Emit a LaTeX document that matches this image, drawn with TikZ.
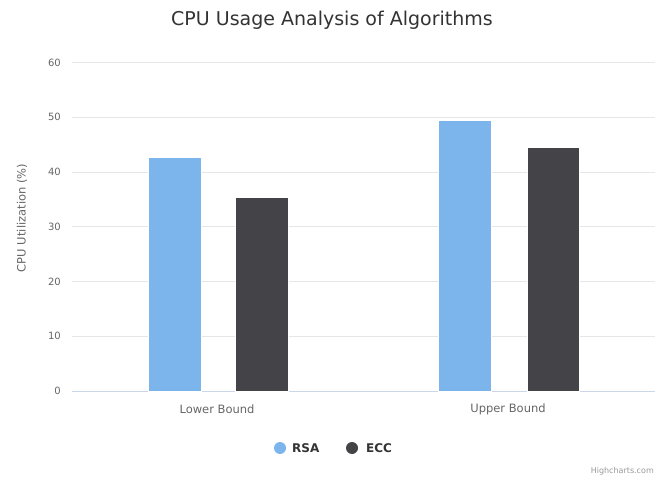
\documentclass[tikz,border=0pt]{standalone}
\usepackage{fontspec}
\setmainfont{DejaVu Sans}
\definecolor{rsa}{HTML}{7CB5EC}
\definecolor{ecc}{HTML}{434348}
\definecolor{gridgray}{HTML}{E6E6E6}
\definecolor{axisblue}{HTML}{CCD6EB}
\definecolor{labelgray}{HTML}{666666}
\definecolor{titlegray}{HTML}{333333}
\definecolor{creditgray}{HTML}{999999}

\begin{document}
\begin{tikzpicture}[x=1pt,y=-1pt,
  gridline/.style={draw=gridgray,line width=0.8pt},
  ticklabel/.style={anchor=east,inner sep=0pt,text=labelgray,font=\fontsize{10}{12}\selectfont},
  catlabel/.style={inner sep=0pt,text=labelgray,font=\fontsize{11.5}{13}\selectfont},
  legendlabel/.style={anchor=west,inner sep=0pt,text=titlegray,font=\bfseries\fontsize{12}{14}\selectfont},
  bar/.style={draw=white,line width=0.6pt}]
\useasboundingbox[fill=white] (0,0) rectangle (664,481);

\node[text=titlegray,font=\fontsize{19}{22}\selectfont] (title) at (332,20) {CPU Usage Analysis of Algorithms};

% grid and y axis
\foreach \v in {10,20,...,60}{
  \pgfmathsetmacro\yy{391-5.475*\v}
  \draw[gridline] (72,\yy) -- (655,\yy);
}
\foreach \v in {0,10,...,60}{
  \pgfmathsetmacro\yy{391-5.475*\v}
  \node[ticklabel] (tick\v) at (61,\yy) {\v};
}
\draw[draw=axisblue,line width=0.8pt] (72,391) -- (655,391);
\node[rotate=90,inner sep=0pt,text=labelgray,font=\fontsize{11.5}{13}\selectfont] (ytitle) at (22,218) {CPU Utilization (\%)};

% bars
\fill[rsa,bar] (148,391) rectangle (201,{391-5.475*42.7});
\fill[ecc,bar] (235,391) rectangle (288,{391-5.475*35.4});
\fill[rsa,bar] (438,391) rectangle (491,{391-5.475*49.5});
\fill[ecc,bar] (527,391) rectangle (579,{391-5.475*44.6});

\node[catlabel] (lower) at (217,409) {Lower Bound};
\node[catlabel] (upper) at (508,409) {Upper Bound};

% legend
\fill[rsa] (280,448) circle (6);
\node[legendlabel] (rsa) at (292,448) {RSA};
\fill[ecc] (352,448) circle (6);
\node[legendlabel] (ecc) at (366,448) {ECC};

\node[anchor=east,inner sep=0pt,text=creditgray,font=\fontsize{8}{10}\selectfont] (credits) at (654,471) {Highcharts.com};
\end{tikzpicture}
\end{document}
